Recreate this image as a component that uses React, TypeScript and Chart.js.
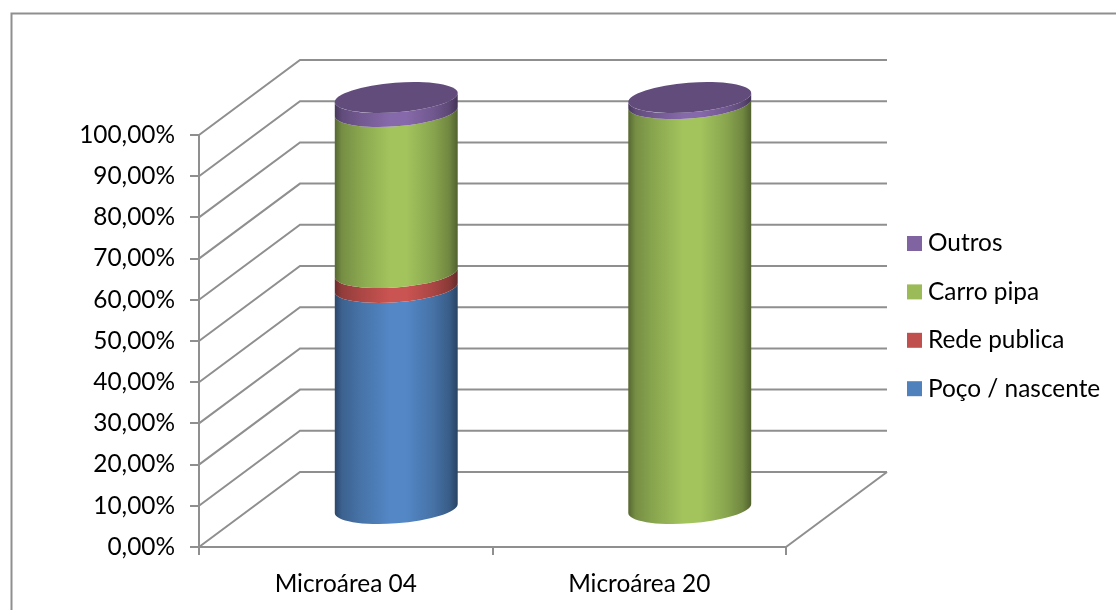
import React, { useEffect, useRef } from "react";
import { Chart, registerables } from "chart.js";

Chart.register(...registerables);

const categories = ["Microárea 04", "Microárea 20"];
const pocoNascente = [53.9, 0];
const redePublica = [3.6, 0];
const carroPipa = [39.1, 98.5];
const outros = [3.4, 1.5];

const seriesColors = ["#4F81BD", "#C0504D", "#9BBB59", "#8064A2"];

const FONT_FAMILY = "Lato, 'Open Sans', sans-serif";
const FONT_SIZE = 24.4;
const GRID_COLOR = "#8f8f8f";

// Oblique projection of the chart box: how far the back wall sits from the front plane.
const DEPTH_X = 101;
const DEPTH_Y = -75;

// Tilted ellipse that forms each cylinder's cross-section, relative to half the bar width.
const ELLIPSE_MINOR_RATIO = 0.24;
const ELLIPSE_TILT = (-4.45 * Math.PI) / 180;

function shade(hex: string, factor: number): string {
  const n = parseInt(hex.slice(1), 16);
  const part = (v: number) => Math.max(0, Math.min(255, Math.round(v * factor)));
  return `rgb(${part((n >> 16) & 255)},${part((n >> 8) & 255)},${part(n & 255)})`;
}

const wallsPlugin = {
  id: "walls",
  beforeDraw(chart: any) {
    const { ctx, chartArea: area, scales } = chart;
    ctx.save();

    // Frame around the chart
    ctx.strokeStyle = "#8f8f8f";
    ctx.lineWidth = 2;
    ctx.beginPath();
    ctx.moveTo(11.5, chart.height);
    ctx.lineTo(11.5, 13.5);
    ctx.lineTo(chart.width, 13.5);
    ctx.stroke();

    // Side wall diagonals and back wall lines, one per value tick
    ctx.strokeStyle = GRID_COLOR;
    ctx.lineWidth = 2;
    const backRight = area.right + DEPTH_X;
    scales.y.ticks.forEach((tick: any) => {
      const y = scales.y.getPixelForValue(tick.value);
      ctx.beginPath();
      ctx.moveTo(area.left, y);
      ctx.lineTo(area.left + DEPTH_X, y + DEPTH_Y);
      ctx.lineTo(backRight, y + DEPTH_Y);
      ctx.stroke();
    });

    // Right edge of the floor
    ctx.beginPath();
    ctx.moveTo(area.right, area.bottom);
    ctx.lineTo(backRight, area.bottom + DEPTH_Y);
    ctx.stroke();
    ctx.restore();
  },
};

const cylindersPlugin = {
  id: "cylinders",
  // The flat bars are replaced by shaded cylinders placed halfway into the box depth.
  beforeDatasetsDraw(chart: any) {
    const { ctx } = chart;
    const datasets = chart.data.datasets;
    const columnCount = chart.data.labels.length;

    for (let col = 0; col < columnCount; col++) {
      let topCap: { x: number; y: number; a: number; b: number; color: string } | null = null;

      datasets.forEach((ds: any, dsIndex: number) => {
        if (!ds.data[col]) return;
        const bar = chart.getDatasetMeta(dsIndex).data[col];
        const cx = bar.x + DEPTH_X / 2;
        const yTop = bar.y + DEPTH_Y / 2;
        const yBase = bar.base + DEPTH_Y / 2;
        const a = bar.width / 2;
        const b = a * ELLIPSE_MINOR_RATIO;
        const color = ds.backgroundColor;
        const edgeAngle = Math.atan(-(b / a) * Math.tan(ELLIPSE_TILT));

        const gradient = ctx.createLinearGradient(cx - a, 0, cx + a, 0);
        const stops: [number, number][] = [
          [0, 0.55],
          [0.06, 0.76],
          [0.2, 0.88],
          [0.45, 1.05],
          [0.58, 1.05],
          [0.8, 0.88],
          [0.93, 0.72],
          [1, 0.52],
        ];
        stops.forEach(([pos, f]) => gradient.addColorStop(pos, shade(color, f)));

        ctx.save();
        ctx.fillStyle = gradient;
        ctx.beginPath();
        ctx.ellipse(cx, yBase, a, b, ELLIPSE_TILT, edgeAngle, edgeAngle + Math.PI, false);
        ctx.ellipse(cx, yTop, a, b, ELLIPSE_TILT, edgeAngle + Math.PI, edgeAngle, true);
        ctx.closePath();
        ctx.fill();
        ctx.restore();

        topCap = { x: cx, y: yTop, a, b, color };
      });

      if (topCap) {
        const cap = topCap as { x: number; y: number; a: number; b: number; color: string };
        ctx.save();
        ctx.fillStyle = shade(cap.color, 0.76);
        ctx.beginPath();
        ctx.ellipse(cap.x, cap.y, cap.a, cap.b, ELLIPSE_TILT, 0, Math.PI * 2);
        ctx.fill();
        ctx.restore();
      }
    }
    return false;
  },
};

const legendPlugin = {
  id: "sideLegend",
  afterDraw(chart: any) {
    const { ctx } = chart;
    const left = 907;
    const firstCenter = 243.5;
    const rowGap = 48.4;
    const box = 15;
    const entries = [...chart.data.datasets].reverse();
    ctx.save();
    ctx.font = `${FONT_SIZE}px ${FONT_FAMILY}`;
    ctx.textBaseline = "middle";
    ctx.textAlign = "left";
    entries.forEach((ds: any, i: number) => {
      const y = firstCenter + i * rowGap;
      ctx.fillStyle = ds.backgroundColor;
      ctx.fillRect(left, y - box / 2, box, box);
      ctx.fillStyle = "#000000";
      ctx.fillText(ds.label, left + box + 6, y);
    });
    ctx.restore();
  },
};

export default function App() {
  const canvasRef = useRef<HTMLCanvasElement | null>(null);

  useEffect(() => {
    document.body.style.margin = "0";
    document.body.style.background = "#ffffff";
    const tickFont = { family: FONT_FAMILY, size: FONT_SIZE };
    const chart = new Chart(canvasRef.current as HTMLCanvasElement, {
      type: "bar",
      data: {
        labels: categories,
        datasets: [
          { label: "Poço / nascente", data: pocoNascente, backgroundColor: seriesColors[0] },
          { label: "Rede publica", data: redePublica, backgroundColor: seriesColors[1] },
          { label: "Carro pipa", data: carroPipa, backgroundColor: seriesColors[2] },
          { label: "Outros", data: outros, backgroundColor: seriesColors[3] },
        ],
      },
      options: {
        responsive: false,
        animation: false,
        layout: { padding: { top: 135, right: 330, left: 0, bottom: 0 } },
        datasets: { bar: { barPercentage: 0.42, categoryPercentage: 1 } },
        plugins: { legend: { display: false }, tooltip: { enabled: false }, title: { display: false } },
        scales: {
          x: {
            stacked: true,
            afterFit: (scale: any) => {
              scale.height = 63;
            },
            grid: {
              color: GRID_COLOR,
              lineWidth: 2,
              drawOnChartArea: false,
              drawTicks: true,
              tickLength: 8,
            },
            border: { color: GRID_COLOR, width: 2 },
            ticks: { color: "#000000", font: tickFont, padding: 15, maxRotation: 0 },
          },
          y: {
            stacked: true,
            min: 0,
            max: 100,
            afterFit: (scale: any) => {
              scale.width = 199;
            },
            grid: {
              color: GRID_COLOR,
              lineWidth: 2,
              drawOnChartArea: false,
              drawTicks: true,
              tickLength: 9,
            },
            border: { color: GRID_COLOR, width: 2 },
            ticks: {
              color: "#000000",
              font: tickFont,
              padding: 15,
              stepSize: 10,
              callback: (value: any) => `${Number(value).toFixed(2).replace(".", ",")}%`,
            },
          },
        },
      },
      plugins: [wallsPlugin, cylindersPlugin, legendPlugin],
    } as any);
    return () => chart.destroy();
  }, []);

  return (
    <canvas
      ref={canvasRef}
      width={1116}
      height={610}
      style={{ display: "block", width: 1116, height: 610 }}
    />
  );
}
